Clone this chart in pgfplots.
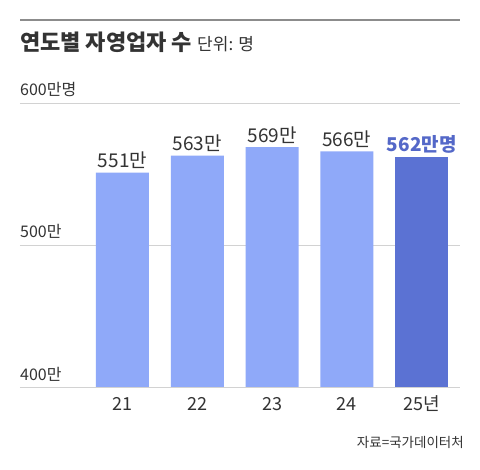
\documentclass[border=0pt]{standalone}
\usepackage{fontspec}
\setmainfont{Noto Sans CJK KR}
\usepackage{pgfplots}
\pgfplotsset{compat=1.18}
\definecolor{barlight}{HTML}{8FA9F9}
\definecolor{bardark}{HTML}{5B72D3}
\definecolor{labdark}{HTML}{5468C8}
\definecolor{gridc}{HTML}{D2D2D2}
\definecolor{txt}{HTML}{333333}
\begin{document}
\begin{tikzpicture}[x=1pt,y=1pt]
\path[fill=white] (0,0) rectangle (480,470);
\draw[line width=1.5pt, color=black!45] (20,450) -- (460,450);
\node[anchor=base west, inner sep=0, text=txt] at (20,419)
  {\fontsize{22}{22}\selectfont\bfseries 연도별 자영업자 수\ \fontsize{17}{17}\selectfont\mdseries 단위: 명};

\begin{axis}[
    at={(20pt,83pt)}, anchor=south west,
    scale only axis, width=440pt, height=284pt,
    xmin=-1.370, xmax=4.512, ymin=400, ymax=600,
    axis line style={draw=none}, major tick length=0pt,
    ytick={400,500,600}, yticklabels={},
    ymajorgrids, grid style={gridc, line width=0.8pt},
    xtick={0,1,2,3,4}, xticklabels={21,22,23,24,25년},
    x tick label style={font=\fontsize{18}{18}\selectfont, text=txt, anchor=base, yshift=-24pt},
    nodes near coords, point meta=explicit symbolic,
    every node near coord/.append style={font=\fontsize{19}{19}\selectfont, text=txt},
  ]
  \addplot[ybar, bar width=53pt, bar shift=0pt, fill=barlight, draw=none]
    coordinates {(0,551) [551만] (1,563) [563만] (2,569) [569만] (3,566) [566만]};
  \addplot[ybar, bar width=53pt, bar shift=0pt, fill=bardark, draw=none,
    every node near coord/.append style={text=labdark, font=\fontsize{19}{19}\selectfont\bfseries}]
    coordinates {(4,562) [562만명]};
\end{axis}

\begin{scope}[every node/.style={anchor=base west, inner sep=0, text=txt, font=\fontsize{16}{16}\selectfont}]
  \node at (20,374) {600만명};
  \node at (20,232) {500만};
  \node at (20,89) {400만};
\end{scope}
\node[anchor=base east, inner sep=0, text=txt, font=\fontsize{13.5}{13.5}\selectfont] at (464,22) {자료=국가데이터처};
\end{tikzpicture}
\end{document}
